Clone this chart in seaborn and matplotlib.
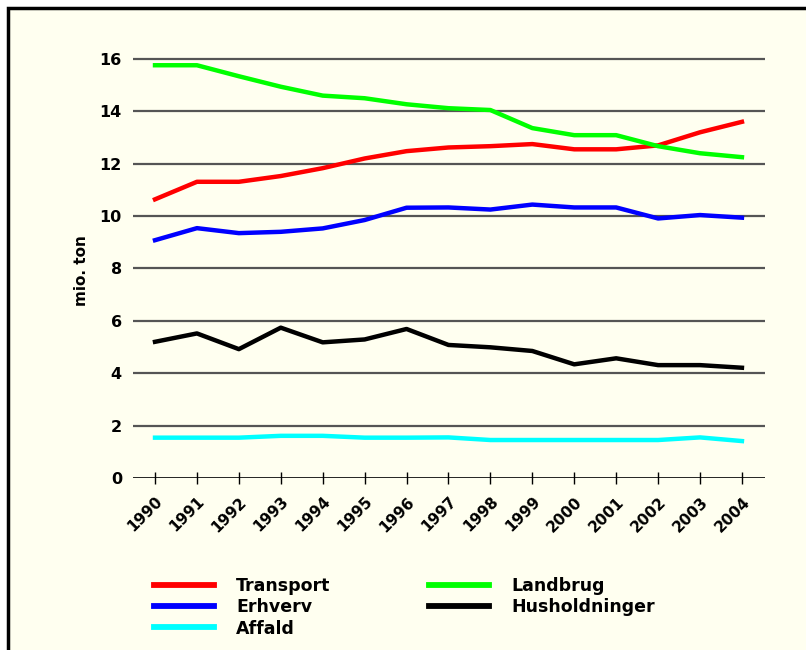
import matplotlib
matplotlib.use("Agg")
import matplotlib.pyplot as plt
import seaborn as sns
import pandas as pd
from matplotlib.patches import Rectangle

years = list(range(1990, 2005))
transport = [10.64, 11.31, 11.31, 11.53, 11.83, 12.2, 12.48, 12.62, 12.67, 12.75, 12.55, 12.55, 12.7, 13.2, 13.6]
erhverv = [9.08, 9.54, 9.35, 9.4, 9.53, 9.85, 10.32, 10.33, 10.25, 10.44, 10.33, 10.33, 9.91, 10.04, 9.94]
affald = [1.54, 1.54, 1.54, 1.61, 1.61, 1.54, 1.54, 1.55, 1.45, 1.45, 1.45, 1.45, 1.45, 1.55, 1.41]
landbrug = [15.76, 15.76, 15.34, 14.94, 14.6, 14.5, 14.27, 14.12, 14.05, 13.36, 13.09, 13.09, 12.67, 12.4, 12.25]
husholdninger = [5.2, 5.52, 4.92, 5.74, 5.18, 5.29, 5.69, 5.08, 4.99, 4.85, 4.34, 4.57, 4.31, 4.31, 4.21]

series = ["Transport", "Erhverv", "Affald", "Landbrug", "Husholdninger"]
colors = ["#ff0000", "#0000ff", "#00ffff", "#00ff00", "#000000"]
yticks = [0, 2, 4, 6, 8, 10, 12, 14, 16]

df = pd.DataFrame({"year": years, "Transport": transport, "Erhverv": erhverv,
                   "Affald": affald, "Landbrug": landbrug,
                   "Husholdninger": husholdninger})
long = df.melt(id_vars="year", var_name="kilde", value_name="mio")

bg = "#fffff0"
fig = plt.figure(figsize=(8.06, 6.5), dpi=100, facecolor="white")
# cream panel with black frame (left/top visible)
fig.patches.append(Rectangle((8 / 806, -0.1), 1.1, 1 - 8 / 650 + 0.1,
                             transform=fig.transFigure, facecolor=bg,
                             edgecolor="black", linewidth=2.5, zorder=-10))

ax = fig.add_axes([133 / 806, 1 - 478 / 650, 632 / 806, 17 * 26.19 / 650])
ax.set_facecolor("none")

for v in yticks[1:]:
    ax.axhline(v, color="#555555", lw=1.6, zorder=1)
ax.axhline(0, color="black", lw=1.2, zorder=1)

sns.lineplot(data=long, x="year", y="mio", hue="kilde", hue_order=series,
             palette=colors, linewidth=3.2, ax=ax, zorder=3)

ax.set_xlim(1989.475, 2004.55)
ax.set_ylim(0, 17)
for s in ax.spines.values():
    s.set_visible(False)

ax.set_yticks(yticks)
ax.set_yticklabels([str(v) for v in yticks], fontweight="bold", fontsize=11.5)
ax.tick_params(axis="y", length=0, pad=8)
ax.set_xticks(years)
ax.set_xticklabels([str(y) for y in years], rotation=45, ha="right",
                   rotation_mode="anchor", fontweight="bold", fontsize=11)
ax.tick_params(axis="x", direction="inout", length=9, width=1, pad=7)

ax.set_xlabel("")
ax.set_ylabel("mio. ton", fontweight="bold", fontsize=11)
ax.yaxis.set_label_coords(-0.07, 0.467)

sns.move_legend(ax, loc="upper left", bbox_to_anchor=(138 / 806, 1 - 561 / 650),
                bbox_transform=fig.transFigure, ncol=2, frameon=False, title=None,
                handlelength=3.5, handletextpad=1.25, columnspacing=5.65,
                labelspacing=0.2, prop={"weight": "bold", "size": 12.5})
for line in ax.get_legend().get_lines():
    line.set_linewidth(4.2)

fig.savefig("out.png", dpi=100, facecolor="white")
